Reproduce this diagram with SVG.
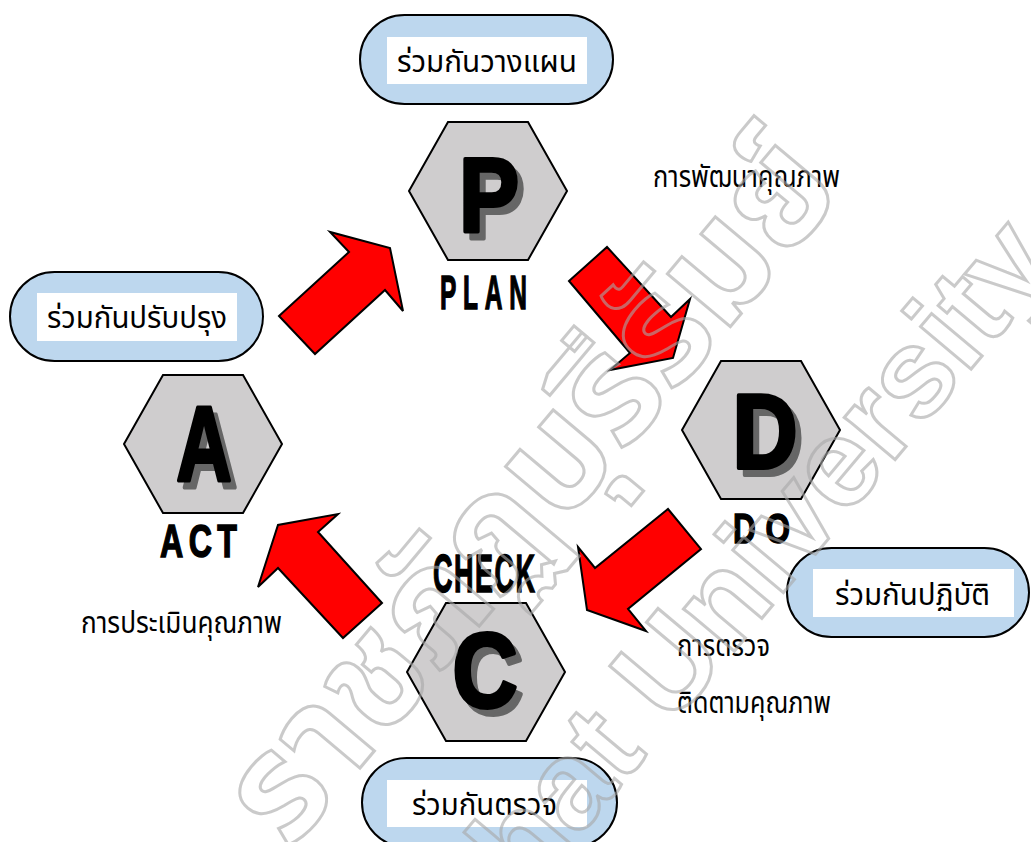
<svg xmlns="http://www.w3.org/2000/svg" xmlns:xlink="http://www.w3.org/1999/xlink" width="1031" height="842" viewBox="0 0 1031 842">
<style>
.pill{fill:#bdd7ee;stroke:#000;stroke-width:2}
.pin{fill:#fff}
.hex{fill:#cfcdce;stroke:#000;stroke-width:2;stroke-linejoin:miter}
.th{font-family:"Noto Sans Thai","Noto Sans Thai UI","Noto Sans","DejaVu Sans",sans-serif;font-size:30px;fill:#000}
.big{font-family:"Liberation Sans",Arial,sans-serif;font-weight:bold;font-size:106px;text-anchor:middle;stroke-width:4;stroke-linejoin:round}
.bk{fill:#000;stroke:#000}
.sh{fill:#666;stroke:#666}
.lbl{font-family:"Liberation Sans",Arial,sans-serif;font-weight:bold;fill:#000;stroke:#000;stroke-width:1.5}
.arr{fill:#ff0000;stroke:#000;stroke-width:2;stroke-linejoin:miter}
.wm{font-weight:bold;fill:none;stroke:#a8a8a8;stroke-width:3;opacity:.6}
</style>
<defs>
<polygon id="hexshape" points="-79,0 -40,-69 40,-69 79,0 40,69 -40,69"/>
</defs>

<g id="pill-plan">
<rect class="pill" x="360" y="15" width="253" height="89" rx="44.5"/>
<rect class="pin" x="387" y="37" width="200" height="47"/>
<text class="th" x="397" y="72" textLength="180" lengthAdjust="spacingAndGlyphs">ร่วมกันวางแผน</text>
</g>
<g id="pill-act">
<rect class="pill" x="10" y="272" width="253" height="89" rx="44.5"/>
<rect class="pin" x="37" y="293" width="200" height="48"/>
<text class="th" x="47" y="328" textLength="180" lengthAdjust="spacingAndGlyphs">ร่วมกันปรับปรุง</text>
</g>
<g id="pill-do">
<rect class="pill" x="787" y="548" width="242" height="89" rx="44.5"/>
<rect class="pin" x="813" y="569" width="201" height="48"/>
<text class="th" x="835" y="605" textLength="155" lengthAdjust="spacingAndGlyphs">ร่วมกันปฏิบัติ</text>
</g>
<g id="pill-check">
<rect class="pill" x="362" y="758" width="255" height="89" rx="44.5"/>
<rect class="pin" x="387" y="780" width="200" height="47"/>
<text class="th" x="412" y="815" textLength="145" lengthAdjust="spacingAndGlyphs">ร่วมกันตรวจ</text>
</g>

<g id="node-P">
<use xlink:href="#hexshape" class="hex" x="488" y="191"/>
<g transform="translate(489,232) scale(0.85,1)">
<text class="big sh" x="7" y="7">P</text>
<text class="big bk" x="0" y="0">P</text>
</g>
<text class="lbl" font-size="49" textLength="174" lengthAdjust="spacing" transform="translate(440,309) scale(0.5,1)">PLAN</text>
</g>
<g id="node-D">
<use xlink:href="#hexshape" class="hex" x="761" y="430"/>
<g transform="translate(765,468) scale(0.85,1)">
<text class="big sh" x="7" y="7">D</text>
<text class="big bk" x="0" y="0">D</text>
</g>
<text class="lbl" font-size="42" textLength="76" lengthAdjust="spacing" transform="translate(733,543) scale(0.75,1)">DO</text>
</g>
<g id="node-C">
<use xlink:href="#hexshape" class="hex" x="486" y="672"/>
<g transform="translate(485,707) scale(0.85,1)">
<text class="big sh" x="7" y="7">C</text>
<text class="big bk" x="0" y="0">C</text>
</g>
<text class="lbl" font-size="54" textLength="204" lengthAdjust="spacing" transform="translate(433,592) scale(0.5,1)">CHECK</text>
</g>
<g id="node-A">
<use xlink:href="#hexshape" class="hex" x="203" y="444"/>
<g transform="translate(204,481) scale(0.72,1)">
<text class="big sh" x="8" y="7">A</text>
<text class="big bk" x="0" y="0">A</text>
</g>
<text class="lbl" font-size="46" textLength="110" lengthAdjust="spacing" transform="translate(160,557) scale(0.7,1)">ACT</text>
</g>

<g id="notes">
<text class="th" x="653" y="187" textLength="187" lengthAdjust="spacingAndGlyphs">การพัฒนาคุณภาพ</text>
<text class="th" x="81" y="633" textLength="201" lengthAdjust="spacingAndGlyphs">การประเมินคุณภาพ</text>
<text class="th" x="677" y="656" textLength="93" lengthAdjust="spacingAndGlyphs">การตรวจ</text>
<text class="th" x="677" y="713" textLength="154" lengthAdjust="spacingAndGlyphs">ติดตามคุณภาพ</text>
</g>

<g id="connectors">
<polygon class="arr" points="279,316 349,252 330,232 390,248 403,311 385,290 315,354"/>
<polygon class="arr" points="569,281 607,247 671,317 690,299 673,358 610,370 630,353"/>
<polygon class="arr" points="668,509 701,549 628,609 646,631 587,610 578,547 595,568"/>
<polygon class="arr" points="382,603 343,638 278,568 258,587 278,525 338,514 318,532"/>
</g>

<g id="watermark">
<text class="wm" font-family="Noto Sans Thai, Noto Sans, sans-serif" font-size="150" text-anchor="end" transform="translate(845,190) rotate(-50)">ราชภัฏบุรีรัมย์</text>
<text class="wm" font-family="Liberation Sans, sans-serif" font-size="125" transform="translate(309,1158) rotate(-50)">Rajabhat University</text>
</g>
</svg>
